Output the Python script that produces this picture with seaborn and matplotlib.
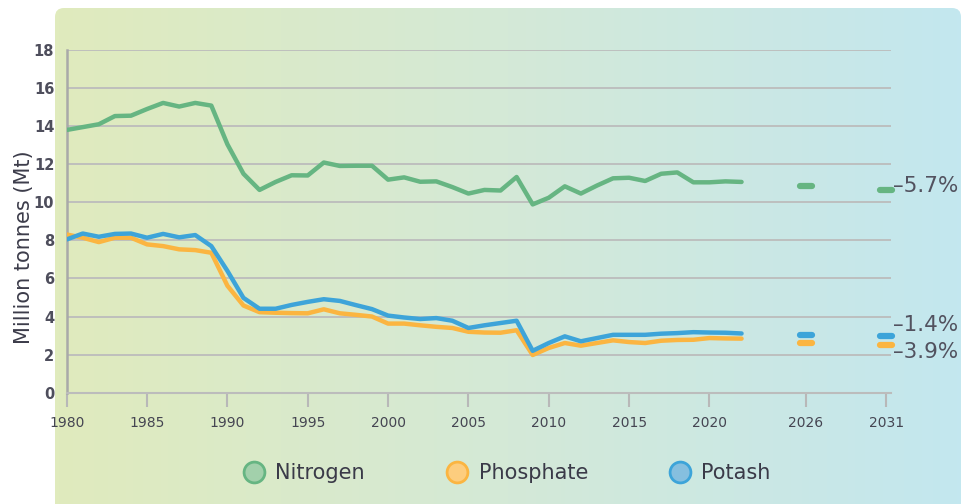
import matplotlib
matplotlib.use("Agg")
import matplotlib.pyplot as plt
import numpy as np
import pandas as pd
import seaborn as sns
from matplotlib.colors import LinearSegmentedColormap
from matplotlib.lines import Line2D
from matplotlib.markers import MarkerStyle
from matplotlib.patches import FancyBboxPatch

# Historical consumption, 1980-2022 (Mt)
years = list(range(1980, 2023))
nitrogen = [13.8, 13.95, 14.1, 14.53, 14.55, 14.9, 15.22, 15.03, 15.22, 15.08,
            13.05, 11.5, 10.65, 11.07, 11.42, 11.41, 12.09, 11.91, 11.92, 11.92,
            11.19, 11.31, 11.08, 11.1, 10.8, 10.46, 10.65, 10.62, 11.33, 9.89,
            10.24, 10.84, 10.46, 10.88, 11.26, 11.29, 11.12, 11.5, 11.57, 11.05,
            11.05, 11.1, 11.07]
phosphate = [8.31, 8.14, 7.91, 8.14, 8.14, 7.79, 7.7, 7.53, 7.49, 7.35,
             5.62, 4.58, 4.23, 4.2, 4.18, 4.17, 4.38, 4.17, 4.09, 4.0,
             3.63, 3.63, 3.54, 3.46, 3.4, 3.2, 3.16, 3.15, 3.28, 1.98,
             2.35, 2.61, 2.47, 2.61, 2.75, 2.66, 2.61, 2.73, 2.77, 2.78,
             2.87, 2.85, 2.84]
potash = [8.05, 8.36, 8.19, 8.34, 8.36, 8.14, 8.34, 8.16, 8.28, 7.7,
          6.4, 4.98, 4.41, 4.41, 4.61, 4.77, 4.91, 4.82, 4.6, 4.39,
          4.05, 3.95, 3.87, 3.92, 3.78, 3.4, 3.54, 3.66, 3.78, 2.2,
          2.61, 2.96, 2.7, 2.87, 3.04, 3.04, 3.04, 3.1, 3.13, 3.18,
          3.16, 3.15, 3.11]

# Projections
proj_years = [2026, 2031]
nitrogen_proj = [10.84, 10.65]
phosphate_proj = [2.6, 2.52]
potash_proj = [3.05, 2.96]

products = ["Nitrogen", "Phosphate", "Potash"]
change_labels = ["\u20135.7%", "\u20133.9%", "\u20131.4%"]
xtick_years = [1980, 1985, 1990, 1995, 2000, 2005, 2010, 2015, 2020, 2026, 2031]
yticks = list(range(0, 20, 2))

colors = {"Nitrogen": "#66b582", "Phosphate": "#fbb541", "Potash": "#3da4d9"}
light = {"Nitrogen": "#a2d0ab", "Phosphate": "#fdcd7e", "Potash": "#86bfdf"}

df = pd.DataFrame({
    "year": years * 3,
    "value": nitrogen + phosphate + potash,
    "product": sum([[p] * len(years) for p in products], []),
})
proj = pd.DataFrame({
    "year": proj_years * 3,
    "value": nitrogen_proj + phosphate_proj + potash_proj,
    "product": sum([[p] * len(proj_years) for p in products], []),
})

sns.set_theme(style="white")
plt.rcParams["font.family"] = ["DejaVu Sans"]

W, H = 968, 504
fig = plt.figure(figsize=(W / 100, H / 100), dpi=100)

# gradient panel behind the chart
bg = fig.add_axes([0, 0, 1, 1])
bg.set_xlim(0, W)
bg.set_ylim(0, H)
bg.axis("off")
cmap = LinearSegmentedColormap.from_list("panel", ["#e0ebbd", "#d4e9d7", "#c3e7ef"])
grad = np.linspace(0, 1, 256).reshape(1, -1)
im = bg.imshow(grad, cmap=cmap, extent=[55, 961, -20, 496], aspect="auto")
panel = FancyBboxPatch((55, -20), 906, 516, boxstyle="round,pad=0,rounding_size=9",
                       transform=bg.transData, facecolor="none", edgecolor="none")
bg.add_patch(panel)
im.set_clip_path(panel)

ax = fig.add_axes([66.7 / W, (H - 392.7) / H, 824.3 / W, 342.7 / H])
ax.set_facecolor("none")

sns.lineplot(data=df, x="year", y="value", hue="product", palette=colors,
             linewidth=3.2, legend=False, ax=ax, zorder=3)

dash = MarkerStyle("_", capstyle="round")
for p in products:
    sub = proj[proj["product"] == p]
    ax.plot(sub["year"], sub["value"], ls="none", marker=dash, ms=8, mew=4.5,
            color=colors[p], zorder=3, clip_on=False)

# change labels next to 2031 markers
offsets = {"Nitrogen": 3, "Phosphate": -5, "Potash": 8}
for p, lab in zip(products, change_labels):
    v = proj[(proj["product"] == p) & (proj["year"] == 2031)]["value"].iloc[0]
    ax.annotate(lab, xy=(2031, v), xytext=(5, offsets[p]), textcoords="offset points",
                ha="left", va="center", fontsize=15.5, color="#52525f",
                annotation_clip=False)

ax.set_xlim(1980, 2031.3)
ax.set_ylim(0, 18)
ax.set_yticks(yticks)
ax.set_xticks(xtick_years)
ax.set_xticklabels([str(y) for y in xtick_years])
ax.yaxis.grid(True, color="#bcbcbc", lw=1.3)
ax.xaxis.grid(False)
ax.set_axisbelow(True)

for s in ["top", "right"]:
    ax.spines[s].set_visible(False)
ax.spines["left"].set_color("#a9a9a9")
ax.spines["left"].set_linewidth(1.8)
ax.spines["bottom"].set_color("#bcbcbc")
ax.spines["bottom"].set_linewidth(1.5)

ax.tick_params(axis="x", length=10, width=1.5, color="#b8b8b8", pad=7,
               labelsize=10, labelcolor="#454552", bottom=True)
ax.tick_params(axis="y", length=0, pad=9, labelsize=10.5, labelcolor="#4e4e5c")
for t in ax.get_yticklabels():
    t.set_fontweight("bold")

ax.set_xlabel("")
ax.set_ylabel("Million tonnes (Mt)", fontsize=15, color="#3c3c4a")
ax.yaxis.set_label_coords(-0.040, 0.425)

handles = [Line2D([], [], ls="none", marker="o", ms=15, mew=2,
                  markerfacecolor=light[p], markeredgecolor=colors[p]) for p in products]
fig.legend(handles, products, loc="center", bbox_to_anchor=(507 / W, 1 - 473 / H),
           ncol=3, frameon=False, fontsize=15, labelcolor="#3a3a48",
           handlelength=1.0, handletextpad=0.55, columnspacing=3.9)

fig.savefig("out.png", dpi=100)
